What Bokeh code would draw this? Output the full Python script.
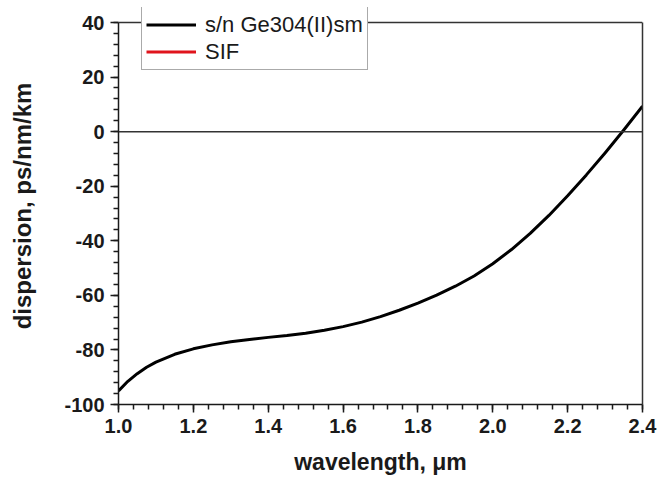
from bokeh.plotting import figure
from bokeh.models import (Span, Legend, LegendItem, FixedTicker, Range1d,
                          ColumnDataSource, LinearAxis)
from bokeh.embed import file_html
from bokeh.resources import INLINE

# Chromatic dispersion of the s/n Ge304(II)sm fibre versus wavelength
wavelength_um = [1.00, 1.025, 1.05, 1.075, 1.10, 1.15, 1.20, 1.25, 1.30, 1.35,
                 1.40, 1.45, 1.50, 1.55, 1.60, 1.65, 1.70, 1.75, 1.80, 1.85,
                 1.90, 1.95, 2.00, 2.05, 2.10, 2.15, 2.20, 2.25, 2.30, 2.35, 2.40]
dispersion_ge304 = [-95.0, -91.5, -88.7, -86.35, -84.45, -81.6, -79.6, -78.15, -77.0, -76.2,
                    -75.4, -74.75, -73.9, -72.8, -71.45, -69.8, -67.8, -65.45, -62.85, -59.95,
                    -56.65, -52.9, -48.4, -43.2, -37.3, -30.7, -23.5, -15.85, -7.8, 0.6, 9.35]

# SIF series: listed in the legend, nothing plotted in this window
wavelength_sif = [float("nan")]
dispersion_sif = [float("nan")]

series_names = ["s/n Ge304(II)sm", "SIF"]

x_ticks = [1.0, 1.2, 1.4, 1.6, 1.8, 2.0, 2.2, 2.4]
x_tick_labels = ["1.0", "1.2", "1.4", "1.6", "1.8", "2.0", "2.2", "2.4"]
y_ticks = [-100, -80, -60, -40, -20, 0, 20, 40]
y_tick_labels = ["-100", "-80", "-60", "-40", "-20", "0", "20", "40"]

FONT = "Liberation Sans"
INK = "#1a1a1a"
FRAME = "#333333"

# the frame reaches a little above y = 40 so the legend box can overlap the top edge
y_top = 45.5

p = figure(width=659, height=480, output_backend="svg", toolbar_location=None,
           x_range=Range1d(1.0, 2.4), y_range=Range1d(-100, y_top),
           min_border_left=118, min_border_right=17, min_border_top=7, min_border_bottom=76)
p.background_fill_color = "white"
p.border_fill_color = "white"
p.grid.visible = False
p.outline_line_color = None

# box edges: top at y = 40 and a plain right axis without ticks
p.add_layout(Span(location=40, dimension="width", line_color=FRAME, line_width=1.5))
right_ax = LinearAxis(bounds=(-100, 40), ticker=FixedTicker(ticks=[], minor_ticks=[]),
                      axis_line_color=FRAME, axis_line_width=1.5,
                      major_tick_out=0, major_tick_in=0, minor_tick_out=0, minor_tick_in=0,
                      major_label_standoff=0)
p.add_layout(right_ax, "right")

# zero-dispersion reference line
p.add_layout(Span(location=0, dimension="width", line_color=FRAME, line_width=1.5))

r_ge = p.line(wavelength_um, dispersion_ge304, line_color="black", line_width=3,
              line_join="round")
r_sif = p.line(x="x", y="y", source=ColumnDataSource(dict(x=wavelength_sif, y=dispersion_sif)),
               line_color="#e0141c", line_width=3)

# ticks and labels
p.xaxis[0].ticker = FixedTicker(ticks=x_ticks,
                                minor_ticks=[round(1.0 + 0.04 * i, 2) for i in range(36)])
p.xaxis[0].major_label_overrides = dict(zip(x_ticks, x_tick_labels))
left_ax = p.yaxis[0]
left_ax.bounds = (-100, 40)
left_ax.ticker = FixedTicker(ticks=y_ticks, minor_ticks=list(range(-100, 41, 4)))
left_ax.major_label_overrides = dict(zip(y_ticks, y_tick_labels))

for ax in (p.xaxis[0], left_ax):
    ax.axis_line_color = INK
    ax.axis_line_width = 1.5
    ax.major_tick_line_color = INK
    ax.major_tick_line_width = 1.5
    ax.minor_tick_line_color = INK
    ax.minor_tick_line_width = 1.5
    ax.major_tick_out = 8
    ax.major_tick_in = 0
    ax.minor_tick_out = 5
    ax.minor_tick_in = 0
    ax.major_label_text_font = FONT
    ax.major_label_text_font_style = "bold"
    ax.major_label_text_font_size = "20px"
    ax.major_label_text_color = INK
    ax.axis_label_text_font = FONT
    ax.axis_label_text_font_style = "bold"
    ax.axis_label_text_color = INK

p.xaxis[0].axis_label = "wavelength, μm"
p.xaxis[0].axis_label_text_font_size = "23px"
left_ax.axis_label = "dispersion, ps/nm/km"
left_ax.axis_label_text_font_size = "24px"
p.xaxis[0].major_label_standoff = 6
left_ax.major_label_standoff = 6
p.xaxis[0].axis_label_standoff = 13
left_ax.axis_label_standoff = 25

legend = Legend(items=[LegendItem(label=series_names[0], renderers=[r_ge]),
                       LegendItem(label=series_names[1], renderers=[r_sif])],
                location=(23, 334), orientation="vertical")
legend.label_text_font = FONT
legend.label_text_font_size = "22px"
legend.label_text_color = INK
legend.glyph_width = 50
legend.glyph_height = 27
legend.label_height = 27
legend.label_standoff = 9
legend.spacing = 0
legend.padding = 4
legend.margin = 0
legend.border_line_color = "#555555"
legend.border_line_width = 1.5
legend.background_fill_color = "white"
legend.background_fill_alpha = 1.0
p.add_layout(legend, "center")

open("out.html", "w").write(file_html(p, INLINE))
